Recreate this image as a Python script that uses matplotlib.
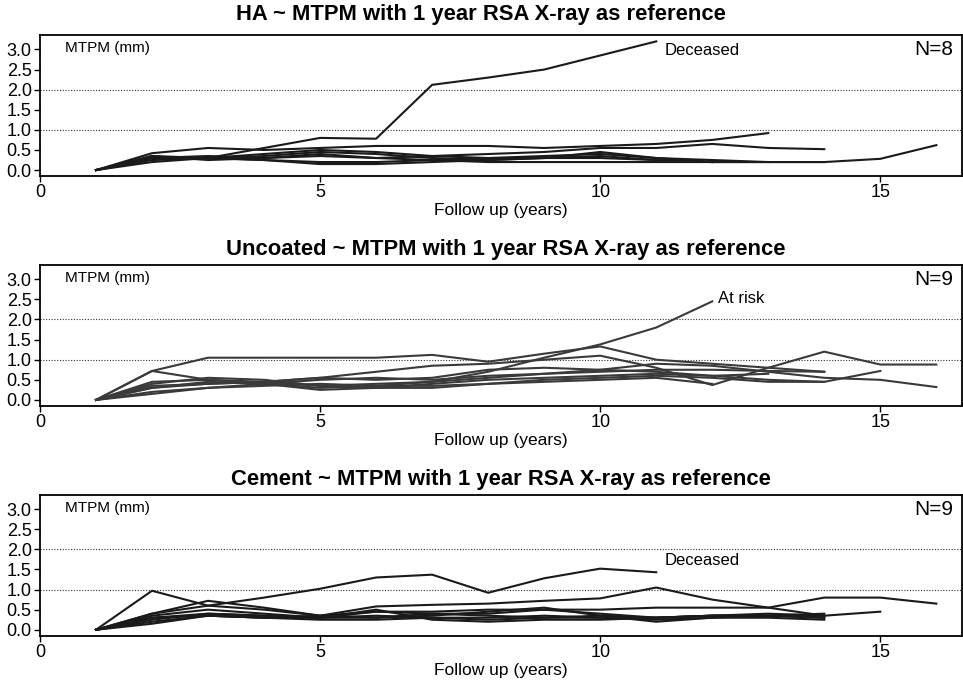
import matplotlib.pyplot as plt

plt.rcParams['font.family'] = ['Liberation Sans', 'DejaVu Sans']

# HA group, follow up years 1.. (values in mm)
ha_1 = [0, 0.3, 0.3, 0.55, 0.8, 0.78, 2.12, 2.3, 2.5, 2.85, 3.2]
ha_2 = [0, 0.42, 0.55, 0.5, 0.55, 0.6, 0.6, 0.6, 0.55, 0.6, 0.65, 0.75, 0.92]
ha_3 = [0, 0.35, 0.3, 0.4, 0.5, 0.45, 0.35, 0.4, 0.45, 0.55, 0.55, 0.65, 0.55, 0.52]
ha_4 = [0, 0.3, 0.35, 0.3, 0.4, 0.3, 0.25, 0.3, 0.3, 0.35, 0.25, 0.2, 0.2, 0.2, 0.28, 0.62]
ha_5 = [0, 0.25, 0.3, 0.25, 0.2, 0.2, 0.25, 0.2, 0.2, 0.2, 0.2, 0.2, 0.2, 0.2]
ha_6 = [0, 0.35, 0.25, 0.3, 0.35, 0.3, 0.35, 0.3, 0.35, 0.4, 0.3, 0.2]
ha_7 = [0, 0.2, 0.3, 0.25, 0.15, 0.15, 0.2, 0.25, 0.3, 0.45, 0.3, 0.25, 0.2]
ha_8 = [0, 0.3, 0.28, 0.35, 0.45, 0.4, 0.3, 0.25, 0.3, 0.3, 0.25, 0.2]

# Uncoated group
un_1 = [0, 0.3, 0.4, 0.45, 0.35, 0.4, 0.45, 0.7, 1.05, 1.38, 1.8, 2.45]
un_2 = [0, 0.72, 1.05, 1.05, 1.05, 1.05, 1.12, 0.95, 1.15, 1.33, 1.0, 0.9, 0.8, 0.7]
un_3 = [0, 0.72, 0.5, 0.45, 0.55, 0.7, 0.85, 0.9, 1.0, 1.1, 0.8, 0.37, 0.8, 1.2, 0.88, 0.88]
un_4 = [0, 0.45, 0.5, 0.4, 0.3, 0.35, 0.45, 0.55, 0.65, 0.75, 0.9, 0.85, 0.7, 0.55, 0.5, 0.32]
un_5 = [0, 0.3, 0.45, 0.4, 0.25, 0.3, 0.4, 0.5, 0.55, 0.6, 0.65, 0.6, 0.5, 0.45, 0.72]
un_6 = [0, 0.2, 0.3, 0.4, 0.5, 0.55, 0.5, 0.6, 0.65, 0.7, 0.75, 0.75, 0.72, 0.7]
un_7 = [0, 0.15, 0.3, 0.35, 0.4, 0.35, 0.35, 0.4, 0.5, 0.55, 0.6, 0.55, 0.45, 0.45]
un_8 = [0, 0.35, 0.4, 0.45, 0.55, 0.5, 0.55, 0.75, 0.8, 0.75, 0.7, 0.6, 0.65]
un_9 = [0, 0.4, 0.55, 0.5, 0.35, 0.3, 0.3, 0.4, 0.45, 0.5, 0.55, 0.4]

# Cement group
ce_1 = [0, 0.97, 0.6, 0.5, 0.35, 0.45, 0.4, 0.4, 0.5, 0.4, 0.3, 0.35, 0.35, 0.3]
ce_2 = [0, 0.4, 0.6, 0.8, 1.02, 1.3, 1.37, 0.92, 1.28, 1.52, 1.43]
ce_3 = [0, 0.4, 0.72, 0.55, 0.35, 0.58, 0.62, 0.65, 0.72, 0.78, 1.05, 0.75, 0.55, 0.8, 0.8, 0.65]
ce_4 = [0, 0.35, 0.5, 0.4, 0.3, 0.45, 0.45, 0.5, 0.5, 0.5, 0.55, 0.55, 0.55, 0.35]
ce_5 = [0, 0.3, 0.4, 0.35, 0.3, 0.3, 0.35, 0.45, 0.55, 0.35, 0.3, 0.35, 0.35, 0.35, 0.45]
ce_6 = [0, 0.2, 0.35, 0.3, 0.3, 0.35, 0.3, 0.25, 0.3, 0.35, 0.2, 0.3, 0.35, 0.4]
ce_7 = [0, 0.25, 0.4, 0.35, 0.3, 0.5, 0.25, 0.2, 0.25, 0.25, 0.3, 0.35, 0.35, 0.3]
ce_8 = [0, 0.3, 0.35, 0.3, 0.35, 0.3, 0.4, 0.35, 0.3, 0.3, 0.25, 0.3, 0.3, 0.25]
ce_9 = [0, 0.15, 0.35, 0.3, 0.25, 0.25, 0.3, 0.3, 0.35, 0.3, 0.3, 0.35, 0.4, 0.35]

titles = ["HA ~ MTPM with 1 year RSA X-ray as reference",
          "Uncoated ~ MTPM with 1 year RSA X-ray as reference",
          "Cement ~ MTPM with 1 year RSA X-ray as reference"]
n_labels = ["N=8", "N=9", "N=9"]
notes = [("Deceased", 11.15, 2.98), ("At risk", 12.1, 2.52), ("Deceased", 11.15, 1.72)]
groups = [[ha_1, ha_2, ha_3, ha_4, ha_5, ha_6, ha_7, ha_8],
          [un_1, un_2, un_3, un_4, un_5, un_6, un_7, un_8, un_9],
          [ce_1, ce_2, ce_3, ce_4, ce_5, ce_6, ce_7, ce_8, ce_9]]
line_colors = ["#1a1a1a", "#3a3a3a", "#1a1a1a"]

fig = plt.figure(figsize=(9.63, 6.8), dpi=100)
bottoms = [0.741, 0.403, 0.065]
title_x = [0.478, 0.505, 0.5]
title_pad = [11, 7, 7]

for k in range(3):
    ax = fig.add_axes([0.0415, bottoms[k], 0.957, 0.207])
    for series in groups[k]:
        years = list(range(1, len(series) + 1))
        ax.plot(years, series, color=line_colors[k], lw=1.5)
    for yy in [1.0, 2.0]:
        ax.axhline(yy, color="#333333", lw=0.8, ls=(0, (1, 1.5)), zorder=0)
    ax.set_xlim(0, 16.45)
    ax.set_ylim(-0.15, 3.35)
    ax.set_xticks([0, 5, 10, 15])
    ax.set_yticks([0, 0.5, 1.0, 1.5, 2.0, 2.5, 3.0])
    ax.set_yticklabels(["0.0", "0.5", "1.0", "1.5", "2.0", "2.5", "3.0"])
    ax.tick_params(labelsize=13, length=4, width=1, pad=2)
    for s in ax.spines.values():
        s.set_linewidth(1.3)
    ax.set_xlabel("Follow up (years)", fontsize=12.5, labelpad=1)
    ax.set_title(titles[k], fontsize=15.8, fontweight="bold", pad=title_pad[k], x=title_x[k])
    ax.text(0.45, 3.03, "MTPM (mm)", fontsize=11, va="center")
    ax.text(16.3, 3.0, n_labels[k], fontsize=15, ha="right", va="center")
    ax.text(notes[k][1], notes[k][2], notes[k][0], fontsize=12, va="center")

fig.savefig("out.png", dpi=100)
